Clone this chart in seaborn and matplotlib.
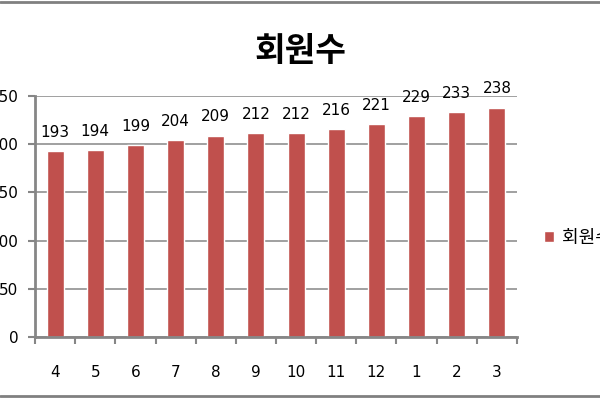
import matplotlib
matplotlib.use("Agg")
import matplotlib.pyplot as plt
from matplotlib.lines import Line2D
from matplotlib.ticker import FixedLocator
import seaborn as sns
import pandas as pd

months = ["4", "5", "6", "7", "8", "9", "10", "11", "12", "1", "2", "3"]
members = [193, 194, 199, 204, 209, 212, 212, 216, 221, 229, 233, 238]
series_name = "회원수"

sns.set_style("white")
plt.rcParams['font.family'] = ['DejaVu Sans', 'Noto Sans CJK KR']
plt.rcParams['text.color'] = 'black'
plt.rcParams['xtick.color'] = 'black'
plt.rcParams['ytick.color'] = 'black'

df = pd.DataFrame({"month": months, "members": members})

fig = plt.figure(figsize=(6, 4), dpi=100)
ax = fig.add_axes([35 / 600, 1 - 337 / 400, 482 / 600, 241 / 400])

sns.barplot(data=df, x="month", y="members", color="#C0504D", width=0.42,
            saturation=1, ax=ax, label=series_name)
handles, labels = ax.get_legend_handles_labels()
if ax.get_legend() is not None:
    ax.get_legend().remove()

ax.set_ylim(0, 250)
ax.set_xlim(-0.5, len(months) - 0.5)
ax.set_yticks([0, 50, 100, 150, 200, 250])
ax.yaxis.grid(True, color="#868686", linewidth=1.1)
ax.set_axisbelow(True)
ax.set_xlabel("")
ax.set_ylabel("")

for side in ["top", "right"]:
    ax.spines[side].set_visible(False)
for side in ["left", "bottom"]:
    ax.spines[side].set_color("#868686")
    ax.spines[side].set_linewidth(2)

ax.tick_params(axis="y", length=5, width=1.5, color="#868686", labelcolor="black",
               pad=7, labelsize=11, left=True)
ax.tick_params(axis="x", which="major", length=0, pad=20, labelsize=11, labelcolor="black")
ax.xaxis.set_minor_locator(FixedLocator([i - 0.5 for i in range(len(months) + 1)]))
ax.tick_params(axis="x", which="minor", length=5, width=1.5, color="#868686", bottom=True)

for cont in ax.containers:
    ax.bar_label(cont, padding=8, fontsize=11, color="black")

fig.suptitle(series_name, x=0.5, y=1 - 51 / 400, va="center", fontsize=24,
             fontweight="bold", color="black", family=["Noto Sans CJK KR"])

fig.legend(handles, labels, loc="center left", bbox_to_anchor=(528 / 600, 1 - 238 / 400),
           frameon=False, handlelength=0.55, handleheight=0.55, handletextpad=0.45,
           prop={"family": ["Noto Sans CJK KR"], "size": 13})

fig.add_artist(Line2D([0, 1], [1 - 2 / 400, 1 - 2 / 400], color="#808080", linewidth=2,
                      transform=fig.transFigure))
fig.add_artist(Line2D([0, 1], [1 - 396 / 400, 1 - 396 / 400], color="#808080", linewidth=2,
                      transform=fig.transFigure))

fig.savefig("out.png", dpi=100)
